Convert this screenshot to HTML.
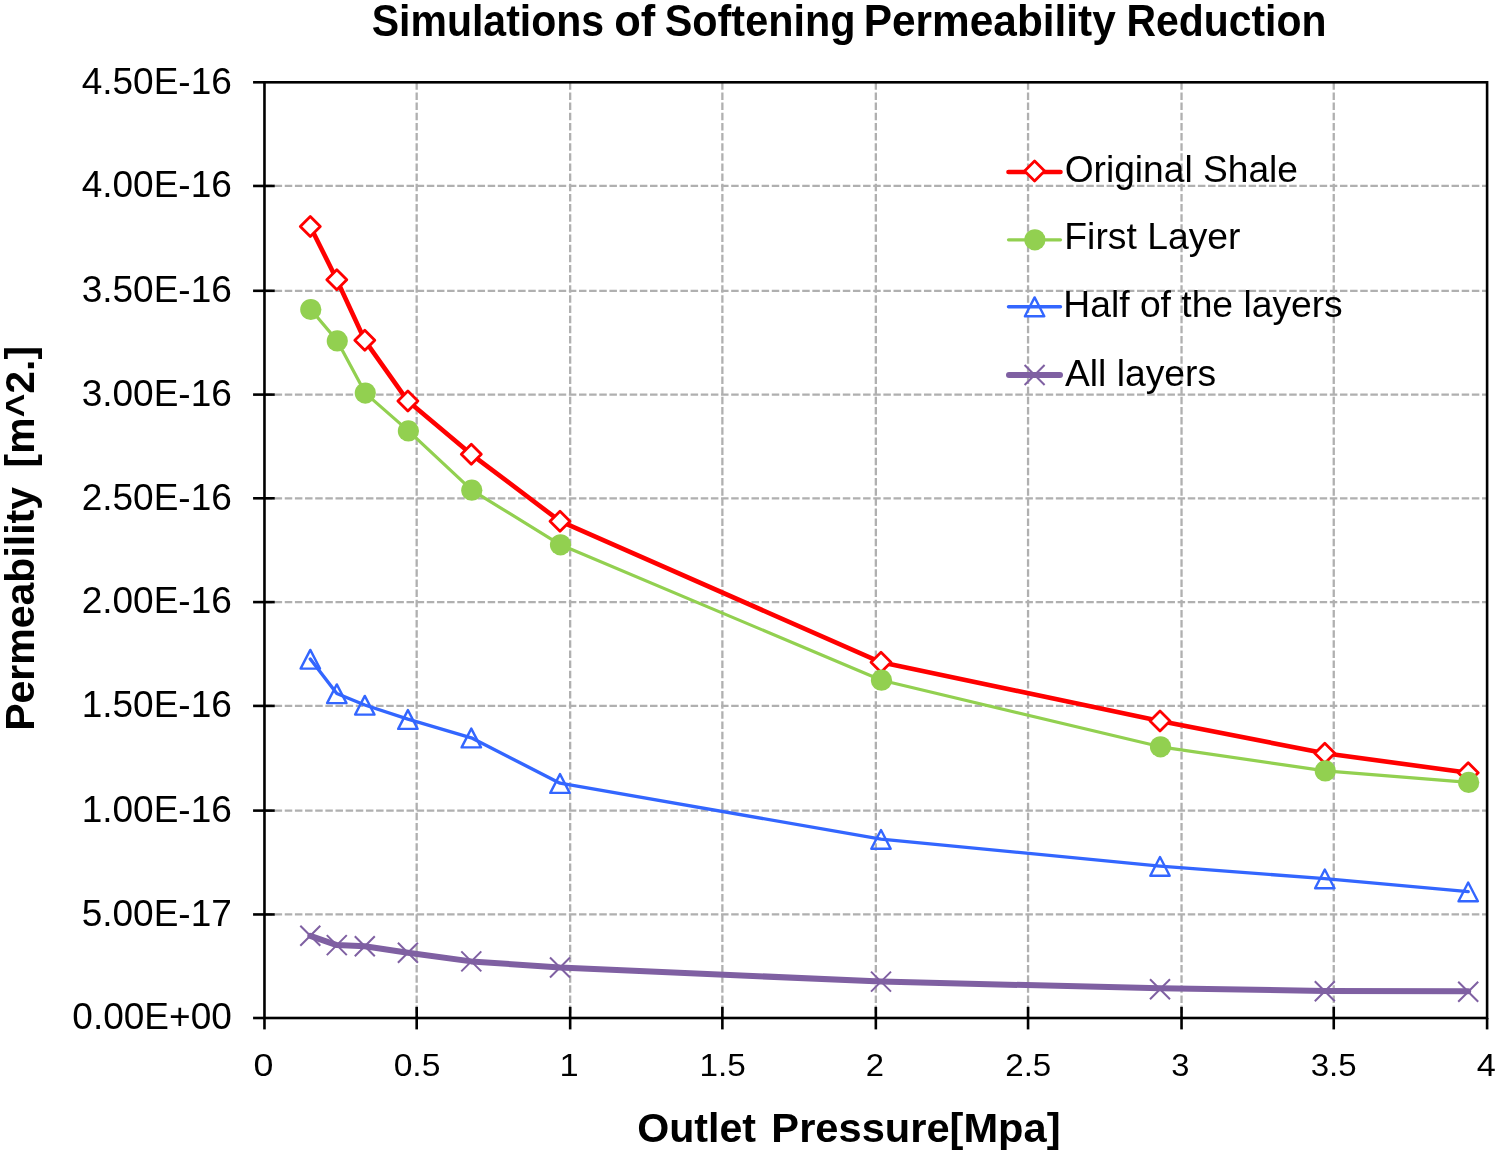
<!DOCTYPE html>
<html lang="en"><head><meta charset="utf-8"><title>Simulations of Softening Permeability Reduction</title>
<style>
html,body{margin:0;padding:0;background:#fff;}
body{width:1498px;height:1154px;overflow:hidden;}
svg{display:block;}
text{font-family:"Liberation Sans",sans-serif;fill:#000;}
.b{font-weight:bold;}
</style></head><body>
<svg width="1498" height="1154" viewBox="0 0 1498 1154" role="img" aria-label="Simulations of Softening Permeability Reduction">
<rect width="1498" height="1154" fill="#fff"/>
<g stroke="#b0b0b0" stroke-width="2.3" stroke-dasharray="7.5 2.646" fill="none">
<line x1="264.47" y1="185.95" x2="1487.10" y2="185.95"/>
<line x1="264.47" y1="290.80" x2="1487.10" y2="290.80"/>
<line x1="264.47" y1="394.60" x2="1487.10" y2="394.60"/>
<line x1="264.47" y1="498.30" x2="1487.10" y2="498.30"/>
<line x1="264.47" y1="602.10" x2="1487.10" y2="602.10"/>
<line x1="264.47" y1="705.90" x2="1487.10" y2="705.90"/>
<line x1="264.47" y1="810.60" x2="1487.10" y2="810.60"/>
<line x1="264.47" y1="914.45" x2="1487.10" y2="914.45"/>
<line x1="416.68" y1="82.30" x2="416.68" y2="1018.00"/>
<line x1="570.16" y1="82.30" x2="570.16" y2="1018.00"/>
<line x1="722.37" y1="82.30" x2="722.37" y2="1018.00"/>
<line x1="875.84" y1="82.30" x2="875.84" y2="1018.00"/>
<line x1="1028.06" y1="82.30" x2="1028.06" y2="1018.00"/>
<line x1="1181.54" y1="82.30" x2="1181.54" y2="1018.00"/>
<line x1="1333.75" y1="82.30" x2="1333.75" y2="1018.00"/>
</g>
<g stroke="#000" stroke-width="2.6" fill="none" stroke-linecap="butt">
<rect x="264.47" y="82.30" width="1222.63" height="935.70"/>
<line x1="253.07" y1="82.30" x2="264.47" y2="82.30"/>
<line x1="253.07" y1="185.95" x2="274.77" y2="185.95"/>
<line x1="253.07" y1="290.80" x2="274.77" y2="290.80"/>
<line x1="253.07" y1="394.60" x2="274.77" y2="394.60"/>
<line x1="253.07" y1="498.30" x2="274.77" y2="498.30"/>
<line x1="253.07" y1="602.10" x2="274.77" y2="602.10"/>
<line x1="253.07" y1="705.90" x2="274.77" y2="705.90"/>
<line x1="253.07" y1="810.60" x2="274.77" y2="810.60"/>
<line x1="253.07" y1="914.45" x2="274.77" y2="914.45"/>
<line x1="253.07" y1="1018.00" x2="264.47" y2="1018.00"/>
<line x1="264.47" y1="1018.00" x2="264.47" y2="1029.40"/>
<line x1="416.68" y1="1006.90" x2="416.68" y2="1029.40"/>
<line x1="570.16" y1="1006.90" x2="570.16" y2="1029.40"/>
<line x1="722.37" y1="1006.90" x2="722.37" y2="1029.40"/>
<line x1="875.84" y1="1006.90" x2="875.84" y2="1029.40"/>
<line x1="1028.06" y1="1006.90" x2="1028.06" y2="1029.40"/>
<line x1="1181.54" y1="1006.90" x2="1181.54" y2="1029.40"/>
<line x1="1333.75" y1="1006.90" x2="1333.75" y2="1029.40"/>
<line x1="1487.10" y1="1018.00" x2="1487.10" y2="1029.40"/>
</g>
<polyline points="310.3,226.4 336.8,279.7 364.8,340.3 407.9,401.1 471.3,454.3 560.0,521.2 881.0,662.3 1160.0,721.0 1324.8,753.3 1468.2,772.7" fill="none" stroke="#ff0000" stroke-width="4.6" stroke-linejoin="round" stroke-linecap="round"/>
<path d="M310.3 216.4L320.3 226.4L310.3 236.4L300.3 226.4Z" fill="#fff" stroke="#ff0000" stroke-width="2.8" stroke-linejoin="round"/>
<path d="M336.8 269.7L346.8 279.7L336.8 289.7L326.8 279.7Z" fill="#fff" stroke="#ff0000" stroke-width="2.8" stroke-linejoin="round"/>
<path d="M364.8 330.3L374.8 340.3L364.8 350.3L354.8 340.3Z" fill="#fff" stroke="#ff0000" stroke-width="2.8" stroke-linejoin="round"/>
<path d="M407.9 391.1L417.9 401.1L407.9 411.1L397.9 401.1Z" fill="#fff" stroke="#ff0000" stroke-width="2.8" stroke-linejoin="round"/>
<path d="M471.3 444.3L481.3 454.3L471.3 464.3L461.3 454.3Z" fill="#fff" stroke="#ff0000" stroke-width="2.8" stroke-linejoin="round"/>
<path d="M560.0 511.2L570.0 521.2L560.0 531.2L550.0 521.2Z" fill="#fff" stroke="#ff0000" stroke-width="2.8" stroke-linejoin="round"/>
<path d="M881.0 652.3L891.0 662.3L881.0 672.3L871.0 662.3Z" fill="#fff" stroke="#ff0000" stroke-width="2.8" stroke-linejoin="round"/>
<path d="M1160.0 711.0L1170.0 721.0L1160.0 731.0L1150.0 721.0Z" fill="#fff" stroke="#ff0000" stroke-width="2.8" stroke-linejoin="round"/>
<path d="M1324.8 743.3L1334.8 753.3L1324.8 763.3L1314.8 753.3Z" fill="#fff" stroke="#ff0000" stroke-width="2.8" stroke-linejoin="round"/>
<path d="M1468.2 762.7L1478.2 772.7L1468.2 782.7L1458.2 772.7Z" fill="#fff" stroke="#ff0000" stroke-width="2.8" stroke-linejoin="round"/>
<polyline points="310.8,309.5 337.3,340.9 365.3,393.1 408.4,430.9 471.8,490.2 560.5,544.8 881.5,680.2 1160.5,746.8 1325.3,770.9 1468.7,782.4" fill="none" stroke="#92d050" stroke-width="3.2" stroke-linejoin="round" stroke-linecap="round"/>
<circle cx="310.8" cy="309.5" r="10.6" fill="#92d050"/>
<circle cx="337.3" cy="340.9" r="10.6" fill="#92d050"/>
<circle cx="365.3" cy="393.1" r="10.6" fill="#92d050"/>
<circle cx="408.4" cy="430.9" r="10.6" fill="#92d050"/>
<circle cx="471.8" cy="490.2" r="10.6" fill="#92d050"/>
<circle cx="560.5" cy="544.8" r="10.6" fill="#92d050"/>
<circle cx="881.5" cy="680.2" r="10.6" fill="#92d050"/>
<circle cx="1160.5" cy="746.8" r="10.6" fill="#92d050"/>
<circle cx="1325.3" cy="770.9" r="10.6" fill="#92d050"/>
<circle cx="1468.7" cy="782.4" r="10.6" fill="#92d050"/>
<path d="M310.3 649.9L320.0 668.6L300.6 668.6Z" fill="none" stroke="#3366ff" stroke-width="2.4" stroke-linejoin="round"/>
<path d="M336.8 684.4L346.5 703.1L327.1 703.1Z" fill="none" stroke="#3366ff" stroke-width="2.4" stroke-linejoin="round"/>
<path d="M364.8 695.9L374.5 714.6L355.1 714.6Z" fill="none" stroke="#3366ff" stroke-width="2.4" stroke-linejoin="round"/>
<path d="M407.9 710.1L417.6 728.9L398.2 728.9Z" fill="none" stroke="#3366ff" stroke-width="2.4" stroke-linejoin="round"/>
<path d="M471.3 728.6L481.0 747.4L461.6 747.4Z" fill="none" stroke="#3366ff" stroke-width="2.4" stroke-linejoin="round"/>
<path d="M560.0 774.1L569.7 792.9L550.3 792.9Z" fill="none" stroke="#3366ff" stroke-width="2.4" stroke-linejoin="round"/>
<path d="M881.0 830.0L890.7 848.8L871.3 848.8Z" fill="none" stroke="#3366ff" stroke-width="2.4" stroke-linejoin="round"/>
<path d="M1160.0 857.0L1169.7 875.8L1150.3 875.8Z" fill="none" stroke="#3366ff" stroke-width="2.4" stroke-linejoin="round"/>
<path d="M1324.8 869.5L1334.5 888.2L1315.1 888.2Z" fill="none" stroke="#3366ff" stroke-width="2.4" stroke-linejoin="round"/>
<path d="M1468.2 882.5L1477.9 901.2L1458.5 901.2Z" fill="none" stroke="#3366ff" stroke-width="2.4" stroke-linejoin="round"/>
<polyline points="310.3,659.0 336.8,693.5 364.8,705.0 407.9,719.2 471.3,737.8 560.0,783.2 881.0,839.1 1160.0,866.1 1324.8,878.6 1468.2,891.6" fill="none" stroke="#3366ff" stroke-width="3.4" stroke-linejoin="round" stroke-linecap="round"/>
<path d="M300.3 925.8L320.3 945.8M300.3 945.8L320.3 925.8" fill="none" stroke="#7f60a2" stroke-width="2.0"/>
<path d="M326.8 935.1L346.8 955.1M326.8 955.1L346.8 935.1" fill="none" stroke="#7f60a2" stroke-width="2.0"/>
<path d="M354.8 936.2L374.8 956.2M354.8 956.2L374.8 936.2" fill="none" stroke="#7f60a2" stroke-width="2.0"/>
<path d="M397.9 942.7L417.9 962.7M397.9 962.7L417.9 942.7" fill="none" stroke="#7f60a2" stroke-width="2.0"/>
<path d="M461.3 951.4L481.3 971.4M461.3 971.4L481.3 951.4" fill="none" stroke="#7f60a2" stroke-width="2.0"/>
<path d="M550.0 957.5L570.0 977.5M550.0 977.5L570.0 957.5" fill="none" stroke="#7f60a2" stroke-width="2.0"/>
<path d="M871.0 971.6L891.0 991.6M871.0 991.6L891.0 971.6" fill="none" stroke="#7f60a2" stroke-width="2.0"/>
<path d="M1150.0 979.2L1170.0 999.2M1150.0 999.2L1170.0 979.2" fill="none" stroke="#7f60a2" stroke-width="2.0"/>
<path d="M1314.8 981.2L1334.8 1001.2M1314.8 1001.2L1334.8 981.2" fill="none" stroke="#7f60a2" stroke-width="2.0"/>
<path d="M1458.2 981.7L1478.2 1001.7M1458.2 1001.7L1478.2 981.7" fill="none" stroke="#7f60a2" stroke-width="2.0"/>
<polyline points="310.3,935.8 336.8,945.1 364.8,946.2 407.9,952.7 471.3,961.4 560.0,967.5 881.0,981.6 1160.0,988.3 1324.8,990.9 1468.2,991.2" fill="none" stroke="#7f60a2" stroke-width="6" stroke-linejoin="round" stroke-linecap="round"/>
<line x1="1008.5" y1="172.0" x2="1060.5" y2="172.0" stroke="#ff0000" stroke-width="4.6" stroke-linecap="round"/>
<path d="M1034.6 161.1L1044.6 171.1L1034.6 181.1L1024.6 171.1Z" fill="#fff" stroke="#ff0000" stroke-width="2.8" stroke-linejoin="round"/>
<line x1="1008.5" y1="239.8" x2="1060.5" y2="239.8" stroke="#92d050" stroke-width="3.2" stroke-linecap="round"/>
<circle cx="1034.9" cy="239.8" r="10.6" fill="#92d050"/>
<path d="M1034.6 297.4L1044.3 316.2L1024.9 316.2Z" fill="none" stroke="#3366ff" stroke-width="2.4" stroke-linejoin="round"/>
<line x1="1008.5" y1="306.8" x2="1060.5" y2="306.8" stroke="#3366ff" stroke-width="3.4" stroke-linecap="round"/>
<path d="M1024.6 365.0L1044.6 385.0M1024.6 385.0L1044.6 365.0" fill="none" stroke="#7f60a2" stroke-width="2.0"/>
<line x1="1009.0" y1="375.0" x2="1060.0" y2="375.0" stroke="#7f60a2" stroke-width="6" stroke-linecap="round"/>
<text x="1064.64" y="181.70" font-size="37" textLength="233.39" lengthAdjust="spacingAndGlyphs">Original Shale</text>
<text x="1064.32" y="249.40" font-size="37" textLength="176.17" lengthAdjust="spacingAndGlyphs">First Layer</text>
<text x="1063.33" y="317.30" font-size="37" textLength="279.41" lengthAdjust="spacingAndGlyphs">Half of the layers</text>
<text x="1064.91" y="385.80" font-size="37" textLength="151.16" lengthAdjust="spacingAndGlyphs">All layers</text>
<text x="231.8" y="93.5" font-size="37" text-anchor="end">4.50E-16</text>
<text x="231.8" y="197.1" font-size="37" text-anchor="end">4.00E-16</text>
<text x="231.8" y="302.0" font-size="37" text-anchor="end">3.50E-16</text>
<text x="231.8" y="405.8" font-size="37" text-anchor="end">3.00E-16</text>
<text x="231.8" y="509.5" font-size="37" text-anchor="end">2.50E-16</text>
<text x="231.8" y="613.3" font-size="37" text-anchor="end">2.00E-16</text>
<text x="231.8" y="717.1" font-size="37" text-anchor="end">1.50E-16</text>
<text x="231.8" y="821.8" font-size="37" text-anchor="end">1.00E-16</text>
<text x="231.8" y="925.7" font-size="37" text-anchor="end">5.00E-17</text>
<text x="231.8" y="1029.2" font-size="37" text-anchor="end">0.00E+00</text>
<text x="253.47" y="1075.60" font-size="31.8" textLength="19.92" lengthAdjust="spacingAndGlyphs">0</text>
<text x="393.65" y="1075.60" font-size="31.8" textLength="46.78" lengthAdjust="spacingAndGlyphs">0.5</text>
<text x="559.42" y="1075.60" font-size="31.8" textLength="19.16" lengthAdjust="spacingAndGlyphs">1</text>
<text x="699.40" y="1075.60" font-size="31.8" textLength="46.32" lengthAdjust="spacingAndGlyphs">1.5</text>
<text x="865.66" y="1075.60" font-size="31.8" textLength="18.22" lengthAdjust="spacingAndGlyphs">2</text>
<text x="1005.24" y="1075.60" font-size="31.8" textLength="46.07" lengthAdjust="spacingAndGlyphs">2.5</text>
<text x="1171.28" y="1075.60" font-size="31.8" textLength="18.15" lengthAdjust="spacingAndGlyphs">3</text>
<text x="1310.76" y="1075.60" font-size="31.8" textLength="45.84" lengthAdjust="spacingAndGlyphs">3.5</text>
<text x="1476.73" y="1075.60" font-size="31.8" textLength="19.06" lengthAdjust="spacingAndGlyphs">4</text>
<text y="35.70" font-size="44" class="b"><tspan x="371.77" textLength="232.27" lengthAdjust="spacingAndGlyphs">Simulations</tspan> <tspan x="614.16" textLength="40.99" lengthAdjust="spacingAndGlyphs">of</tspan> <tspan x="664.76" textLength="190.65" lengthAdjust="spacingAndGlyphs">Softening</tspan> <tspan x="863.74" textLength="252.07" lengthAdjust="spacingAndGlyphs">Permeability</tspan> <tspan x="1126.44" textLength="199.97" lengthAdjust="spacingAndGlyphs">Reduction</tspan></text>
<text y="1142.00" font-size="41.2" class="b"><tspan x="637.15" textLength="118.91" lengthAdjust="spacingAndGlyphs">Outlet</tspan> <tspan x="771.39" textLength="289.18" lengthAdjust="spacingAndGlyphs">Pressure[Mpa]</tspan></text>
<g transform="translate(33.7 0) rotate(-90)">
<text y="0.00" font-size="41.5" class="b"><tspan x="-730.77" textLength="243.77" lengthAdjust="spacingAndGlyphs">Permeability</tspan> <tspan x="-467.45" textLength="121.42" lengthAdjust="spacingAndGlyphs">[m^2.]</tspan></text>
</g>
</svg>
</body></html>
